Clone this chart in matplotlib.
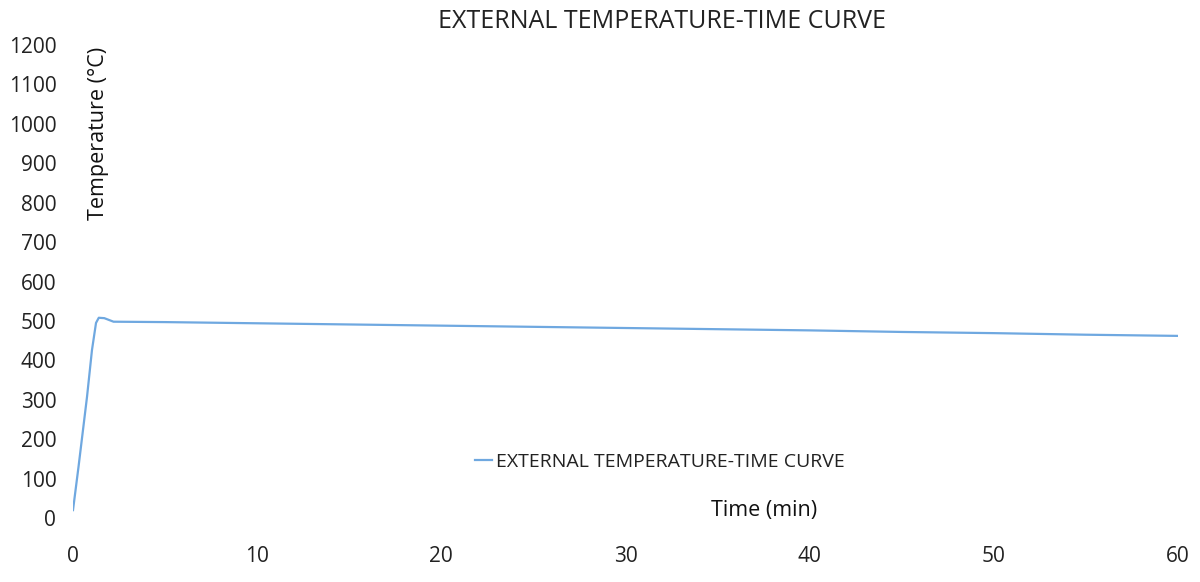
import matplotlib.pyplot as plt

# time (min) and external temperature (°C)
time_min = [0, 0.3, 0.76, 1.03, 1.25, 1.4, 1.7, 2.2, 5, 10, 15, 20, 25, 30,
            35, 40, 45, 50, 55, 60]
temp_c = [20, 130, 307, 426, 495, 508, 507, 498, 497, 494, 491, 488, 485,
          482, 479, 476, 472, 469, 465, 462]

series_name = 'EXTERNAL TEMPERATURE-TIME CURVE'
x_ticks = [0, 10, 20, 30, 40, 50, 60]
y_ticks = list(range(0, 1201, 100))

plt.rcParams['font.family'] = ['Open Sans', 'DejaVu Sans']

fig = plt.figure(figsize=(12, 5.82), dpi=100)
ax = fig.add_axes([73 / 1200, 64 / 582, 1105 / 1200, 473 / 582])

ax.plot(time_min, temp_c, color='#6fa8e0', lw=1.6, label=series_name)

ax.set_xlim(0, 60)
ax.set_ylim(0, 1200)
ax.set_xticks(x_ticks)
ax.set_yticks(y_ticks)
ax.tick_params(axis='both', length=0, labelsize=15, colors='#222222')
ax.tick_params(axis='x', pad=20)
ax.tick_params(axis='y', pad=12)
for sp in ax.spines.values():
    sp.set_visible(False)

fig.text(0.552, 0.963, series_name, ha='center', va='center',
         fontsize=18, color='#222222')
fig.text(0.082, 0.77, 'Temperature (°C)', rotation=90, ha='center',
         va='center', fontsize=15.5, color='#111111')
fig.text(0.637, 0.122, 'Time (min)', ha='center', va='center',
         fontsize=15.5, color='#111111')

ax.legend(loc='center', bbox_to_anchor=(0.531, 0.118), frameon=False,
          fontsize=14, handlelength=0.9, handletextpad=0.2,
          labelcolor='#222222')

fig.savefig('out.png', dpi=100)
